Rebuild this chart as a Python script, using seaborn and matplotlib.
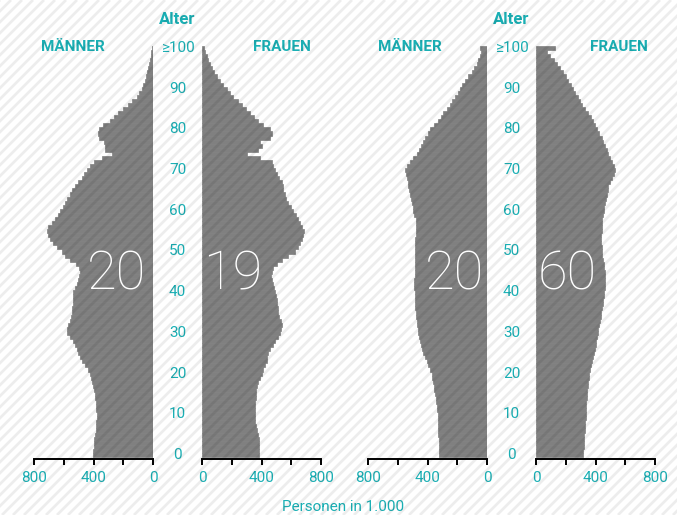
import numpy as np
import matplotlib
matplotlib.use('Agg')
import matplotlib.pyplot as plt
import matplotlib.transforms as mtransforms
import seaborn as sns

# %% data: population by single year of age (thousands), 0 ... >=100
ages = list(range(101))
age_ticks = [0, 10, 20, 30, 40, 50, 60, 70, 80, 90, 100]
age_labels = ['0', '10', '20', '30', '40', '50', '60', '70', '80', '90', '\u2265100']
x_ticks = [0, 200, 400, 600, 800]
x_labels = ['0', '', '400', '', '800']

men_2019 = [405, 402, 400, 398, 395, 390, 385, 382, 380, 378,
            378, 380, 382, 385, 388, 390, 398, 405, 412, 418,
            425, 440, 458, 475, 490, 502, 512, 525, 535, 555,
            575, 580, 570, 560, 552, 547, 543, 540, 540, 538,
            535, 525, 512, 502, 495, 490, 498, 515, 560, 592,
            615, 645, 670, 690, 703, 710, 703, 682, 660, 640,
            625, 608, 592, 575, 560, 547, 525, 502, 480, 462,
            446, 424, 400, 345, 275, 322, 325, 330, 365, 370,
            365, 335, 290, 262, 233, 200, 166, 138, 110, 92,
            76, 64, 54, 45, 37, 31, 25, 20, 16, 11,
            7]
women_2019 = [380, 382, 385, 383, 380, 378, 370, 362, 358, 356,
              356, 356, 357, 358, 360, 362, 366, 372, 379, 390,
              401, 412, 425, 435, 440, 446, 460, 475, 491, 508,
              524, 532, 536, 528, 520, 513, 508, 505, 502, 497,
              491, 482, 475, 468, 466, 468, 480, 502, 536, 580,
              625, 645, 659, 672, 681, 686, 675, 659, 645, 630,
              614, 597, 580, 565, 555, 547, 542, 536, 520, 505,
              491, 480, 468, 390, 300, 379, 401, 390, 457, 468,
              457, 412, 379, 350, 323, 295, 267, 240, 211, 188,
              166, 143, 121, 102, 83, 65, 52, 41, 31, 22,
              13]
men_2060 = [323, 324, 325, 326, 326, 327, 328, 329, 330, 331,
            332, 334, 337, 341, 345, 350, 354, 358, 363, 367,
            372, 383, 394, 406, 417, 428, 436, 443, 450, 456,
            462, 466, 470, 473, 476, 479, 481, 483, 485, 486,
            487, 488, 488, 488, 487, 487, 486, 486, 485, 485,
            484, 483, 482, 481, 480, 478, 476, 474, 478, 488,
            495, 500, 506, 513, 520, 527, 529, 530, 538, 546,
            551, 540, 518, 495, 473, 455, 442, 430, 415, 400,
            385, 358, 330, 312, 294, 272, 250, 232, 215, 198,
            182, 165, 148, 126, 104, 86, 70, 58, 47, 37,
            47]
women_2060 = [318, 319, 320, 322, 323, 325, 327, 329, 331, 333,
              334, 335, 337, 338, 340, 341, 344, 347, 350, 353,
              358, 364, 370, 376, 382, 388, 394, 400, 405, 410,
              415, 420, 425, 430, 435, 440, 444, 448, 452, 456,
              459, 461, 463, 464, 463, 461, 458, 454, 450, 446,
              443, 441, 440, 440, 440, 441, 442, 444, 446, 450,
              455, 460, 466, 471, 476, 481, 487, 495, 510, 522,
              531, 527, 514, 500, 487, 475, 464, 452, 441, 425,
              408, 396, 385, 369, 352, 331, 308, 294, 280, 265,
              251, 234, 217, 200, 183, 162, 140, 118, 95, 72,
              128]

# %% style
sns.set_style('white')
plt.rcParams['font.family'] = ['Roboto', 'DejaVu Sans']
TEAL = '#1ab0b5'
BAR = '#808080'
W, H = 677, 515

fig = plt.figure(figsize=(W / 100, H / 100), dpi=100)
fig.patch.set_facecolor('white')


def fx(px):
    return px / W


def fy(py):
    return 1 - py / H


def pyramid(x0, x1, series, side, year_txt, txt_x):
    ax = fig.add_axes([fx(x0), fy(459), fx(x1 - x0), (459 - 46) / H])
    ax.patch.set_alpha(0)
    sns.barplot(x=series, y=ages, orient='h', native_scale=True, color=BAR,
                saturation=1, width=1, edgecolor=BAR, linewidth=0.5,
                errorbar=None, ax=ax)
    ax.set_ylim(-1, 100.5)
    ax.set_xlim((800, 0) if side == 'm' else (0, 800))
    for s in ['left', 'right', 'top']:
        ax.spines[s].set_visible(False)
    ax.spines['bottom'].set_linewidth(1.4)
    ax.spines['bottom'].set_color('black')
    ax.set_yticks([])
    ax.set_xticks(x_ticks)
    ax.set_xticklabels(x_labels)
    ax.tick_params(axis='x', direction='out', length=4.5, width=1.4,
                   color='black', labelcolor=TEAL, labelsize=11, pad=4,
                   bottom=True)
    ax.set_xlabel('')
    ax.set_ylabel('')
    fig.text(fx(txt_x), fy(275), year_txt, color='white', fontsize=39,
             fontweight='light', ha='center', va='center', zorder=6)
    return ax


panels = [(34, 153, men_2019, 'm', '20', 116.5),
          (202, 321, women_2019, 'f', '19', 233),
          (368, 487, men_2060, 'm', '20', 454),
          (536, 655, women_2060, 'f', '60', 567)]
axes = [pyramid(*p) for p in panels]

# age labels and headings
for ax_ref, cx, mx, wx in [(axes[0], 177.5, 72.5, 282), (axes[2], 511.5, 410, 619)]:
    tr = mtransforms.blended_transform_factory(fig.transFigure, ax_ref.transData)
    for a, lab in zip(age_ticks, age_labels):
        fig.text(fx(cx), a, lab, transform=tr, color=TEAL, fontsize=11,
                 ha='center', va='center')
    fig.text(fx(cx), fy(20), 'Alter', color=TEAL, fontsize=12,
             fontweight='bold', ha='center', va='center')
    fig.text(fx(mx), fy(47), 'MÄNNER', color=TEAL, fontsize=11,
             fontweight='bold', ha='center', va='center')
    fig.text(fx(wx), fy(47), 'FRAUEN', color=TEAL, fontsize=11,
             fontweight='bold', ha='center', va='center')

fig.text(fx(343), fy(507), 'Personen in 1.000', color=TEAL, fontsize=11,
         ha='center', va='center')

# diagonal stripe overlay
ov = fig.add_axes([0, 0, 1, 1], zorder=5)
ov.patch.set_alpha(0)
ov.set_xlim(0, W)
ov.set_ylim(0, H)
ov.axis('off')
for c in np.arange(-H, W + 11, 11):
    ov.plot([c, c + H], [0, H], color='black', alpha=0.07, lw=2,
            solid_capstyle='butt')

fig.savefig('out.png', dpi=100, facecolor='white')
